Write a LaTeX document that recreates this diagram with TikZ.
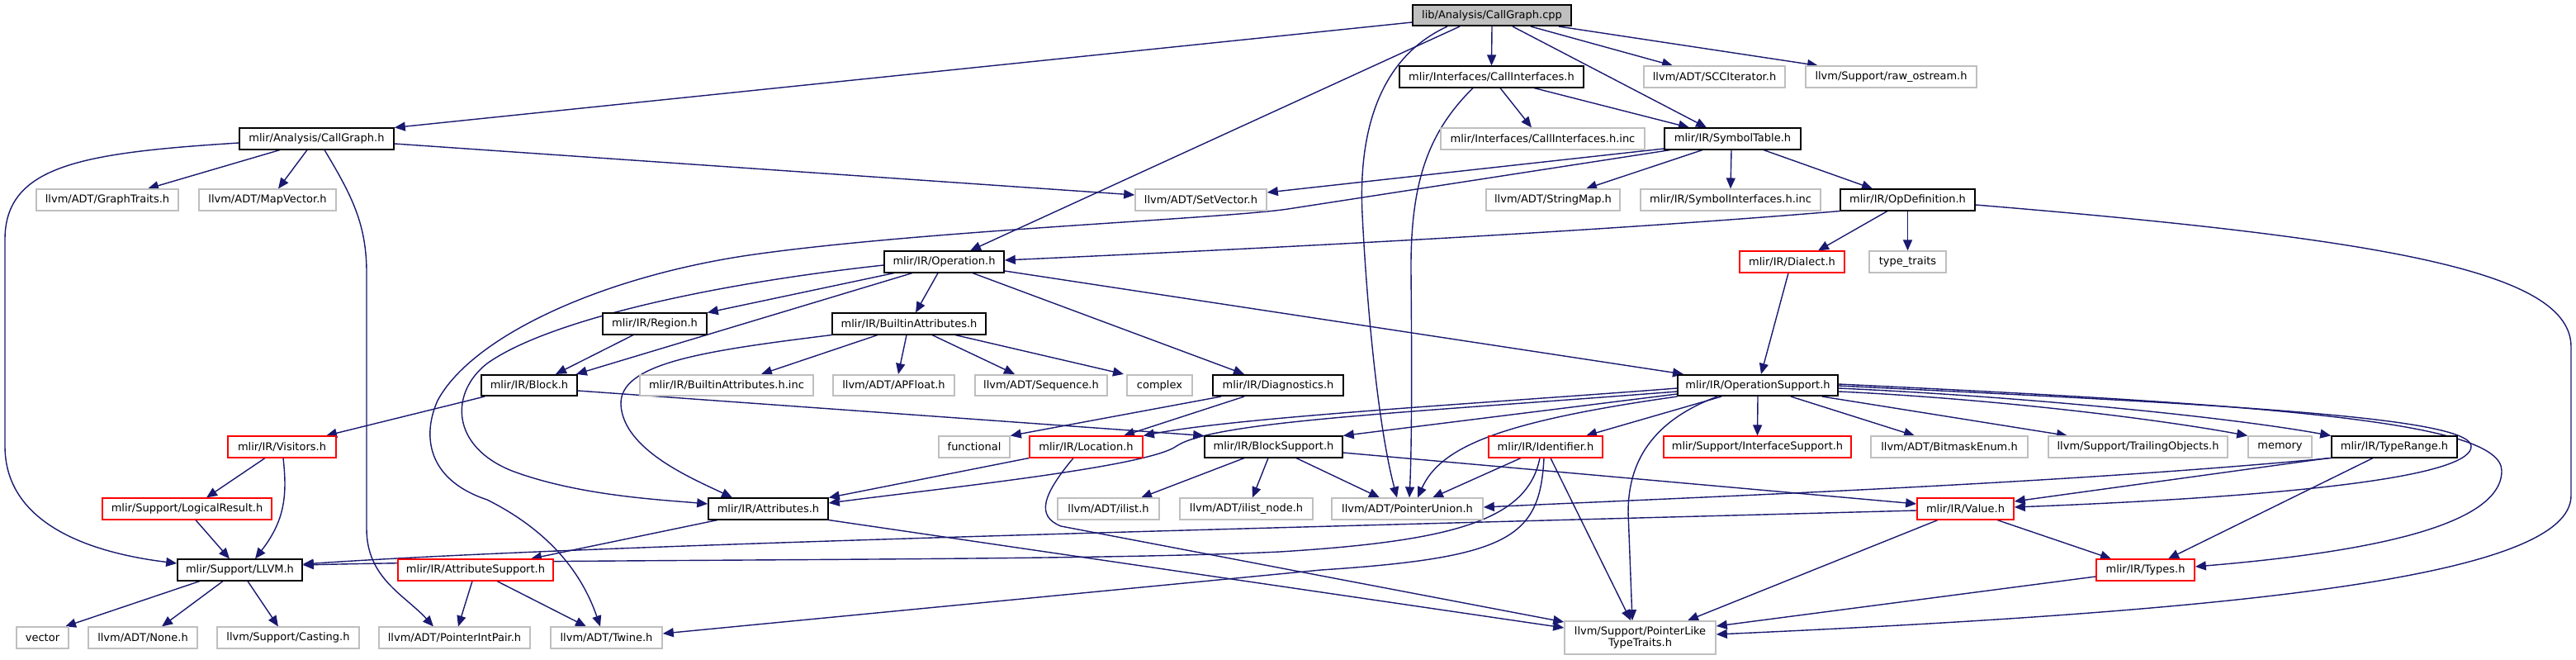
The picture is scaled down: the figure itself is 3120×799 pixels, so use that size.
\documentclass[tikz,border=0pt]{standalone}
\usepackage{fontspec}
\setmainfont{DejaVu Sans}
\usetikzlibrary{arrows.meta}
\pgfdeclarelayer{bg}
\pgfsetlayers{bg,main}
\definecolor{edgec}{HTML}{191970}
\definecolor{greyb}{HTML}{BFBFBF}
\begin{document}
\begin{tikzpicture}[x=1pt,y=-1pt,
  box/.style={rectangle, draw, line width=1.6pt, fill=white, inner sep=0pt, minimum height=25.5pt, font=\fontsize{13}{14}\selectfont},
  doc/.style={box, draw=black},
  ext/.style={box, draw=greyb},
  trunc/.style={box, draw=red},
  src/.style={box, draw=black, fill=greyb},
  dep/.style={draw=edgec, line width=1.4pt, -{Triangle[length=13pt,width=11pt]}}]
\useasboundingbox (0,0) rectangle (3120,799);

% nodes
\node[src, minimum width=192pt] (cpp) at (1807,18.5) {lib/Analysis/CallGraph.cpp};
\node[doc, minimum width=223pt] (ci) at (1806.5,93) {mlir/Interfaces/CallInterfaces.h};
\node[ext, minimum width=171pt] (scc) at (2076.5,93) {llvm/ADT/SCCIterator.h};
\node[ext, minimum width=207pt] (raw) at (2290.5,93) {llvm/Support/raw\_ostream.h};
\node[doc, minimum width=187pt] (cg) at (383.5,168) {mlir/Analysis/CallGraph.h};
\node[ext, minimum width=247pt] (cii) at (1868.5,168) {mlir/Interfaces/CallInterfaces.h.inc};
\node[doc, minimum width=165pt] (st) at (2098.5,168) {mlir/IR/SymbolTable.h};
\node[ext, minimum width=172pt] (gt) at (130,242) {llvm/ADT/GraphTraits.h};
\node[ext, minimum width=166pt] (mv) at (324,242) {llvm/ADT/MapVector.h};
\node[ext, minimum width=159pt] (sv) at (1454.5,242) {llvm/ADT/SetVector.h};
\node[ext, minimum width=162pt] (sm) at (1881,242) {llvm/ADT/StringMap.h};
\node[ext, minimum width=218pt] (sih) at (2096,242) {mlir/IR/SymbolInterfaces.h.inc};
\node[doc, minimum width=163pt] (od) at (2310.5,242) {mlir/IR/OpDefinition.h};
\node[doc, minimum width=145pt] (op) at (1143.5,317) {mlir/IR/Operation.h};
\node[trunc, minimum width=127pt] (dia) at (2170.5,317) {mlir/IR/Dialect.h};
\node[ext, minimum width=93pt] (tt) at (2310.5,317) {type\_traits};
\node[doc, minimum width=126pt] (reg) at (793,392) {mlir/IR/Region.h};
\node[doc, minimum width=186pt] (ba) at (1101,392) {mlir/IR/BuiltinAttributes.h};
\node[doc, minimum width=116pt] (blk) at (641,466.5) {mlir/IR/Block.h};
\node[ext, minimum width=210pt] (bai) at (880,466.5) {mlir/IR/BuiltinAttributes.h.inc};
\node[ext, minimum width=147pt] (apf) at (1082.5,466.5) {llvm/ADT/APFloat.h};
\node[ext, minimum width=160pt] (seq) at (1261,466.5) {llvm/ADT/Sequence.h};
\node[ext, minimum width=79pt] (cpx) at (1404.5,466.5) {complex};
\node[doc, minimum width=158pt] (diag) at (1548,466.5) {mlir/IR/Diagnostics.h};
\node[doc, minimum width=194pt] (ops) at (2129,466.5) {mlir/IR/OperationSupport.h};
\node[trunc, minimum width=131pt] (vis) at (341.5,541) {mlir/IR/Visitors.h};
\node[ext, minimum width=86pt] (fun) at (1180,541) {functional};
\node[trunc, minimum width=137pt] (loc) at (1315.5,541) {mlir/IR/Location.h};
\node[doc, minimum width=167pt] (bs) at (1542.5,541) {mlir/IR/BlockSupport.h};
\node[trunc, minimum width=138pt] (idt) at (1872,541) {mlir/IR/Identifier.h};
\node[trunc, minimum width=227pt] (isup) at (2128.5,541) {mlir/Support/InterfaceSupport.h};
\node[ext, minimum width=190pt] (bme) at (2361,541) {llvm/ADT/BitmaskEnum.h};
\node[ext, minimum width=217pt] (tro) at (2589.5,541) {llvm/Support/TrailingObjects.h};
\node[ext, minimum width=77pt] (mem) at (2761.5,541) {memory};
\node[doc, minimum width=152pt] (tr) at (2900,541) {mlir/IR/TypeRange.h};
\node[trunc, minimum width=205pt] (lr) at (226.5,616) {mlir/Support/LogicalResult.h};
\node[doc, minimum width=145pt] (attr) at (930.5,616) {mlir/IR/Attributes.h};
\node[ext, minimum width=123pt] (il) at (1342.5,616) {llvm/ADT/ilist.h};
\node[ext, minimum width=161pt] (iln) at (1509.5,616) {llvm/ADT/ilist\_node.h};
\node[ext, minimum width=183pt] (pu) at (1704.5,616) {llvm/ADT/PointerUnion.h};
\node[trunc, minimum width=117pt] (val) at (2380.5,616) {mlir/IR/Value.h};
\node[doc, minimum width=151pt] (llvm) at (290.5,690) {mlir/Support/LLVM.h};
\node[trunc, minimum width=188pt] (as) at (576,690) {mlir/IR/AttributeSupport.h};
\node[trunc, minimum width=119pt] (ty) at (2598.5,690) {mlir/IR/Types.h};
\node[ext, minimum width=63pt] (vec) at (51.5,772) {vector};
\node[ext, minimum width=132pt] (none) at (173,772) {llvm/ADT/None.h};
\node[ext, minimum width=172pt] (cast) at (349,772) {llvm/Support/Casting.h};
\node[ext, minimum width=183pt] (pip) at (550.5,772) {llvm/ADT/PointerIntPair.h};
\node[ext, minimum width=135pt] (tw) at (734.5,772) {llvm/ADT/Twine.h};
\node[ext, minimum width=183pt, minimum height=40pt, align=center] (plt) at (1986.5,772) {llvm/Support/PointerLike\\TypeTraits.h};

\begin{pgfonlayer}{bg}
% from CallGraph.cpp
\draw[dep] ([yshift=-8.5pt]cpp.west) -- (cg.north east);
\draw[dep] ([xshift=-39pt]cpp.south) -- ([xshift=31.5pt]op.north);
\draw[dep] ([xshift=-54pt]cpp.south) .. controls (1670,70) and (1645,160) .. (1650,260) .. controls (1656,380) and (1670,520) .. ([xshift=-12.5pt]pu.north);
\draw[dep] (cpp.south) -- (ci.north);
\draw[dep] ([xshift=25pt]cpp.south) -- ([xshift=-31.5pt]st.north);
\draw[dep] ([xshift=47pt]cpp.south) -- ([xshift=-50.5pt]scc.north);
\draw[dep] ([xshift=81pt]cpp.south) -- ([xshift=-88.5pt]raw.north);
% CallGraph.h
\draw[dep] ([xshift=-44.5pt]cg.south) -- ([xshift=49pt]gt.north);
\draw[dep] ([xshift=-11.5pt]cg.south) -- ([xshift=13pt]mv.north);
\draw[dep] ([yshift=-6pt]cg.east) -- ([yshift=6pt]sv.west);
\draw[dep] ([yshift=-5pt]cg.west) .. controls (100,185) and (6,200) .. (6,290) -- (6,540) .. controls (6,630) and (100,668) .. ([yshift=8pt]llvm.west);
\draw[dep] ([xshift=9.5pt]cg.south) .. controls (425,235) and (444,270) .. (444,330) -- (444,640) .. controls (444,700) and (490,720) .. ([xshift=-25.5pt]pip.north);
% CallInterfaces.h
\draw[dep] ([xshift=10.5pt]ci.south) -- ([xshift=-13.5pt]cii.north);
\draw[dep] ([xshift=51.5pt]ci.south) -- ([xshift=-52.5pt]st.north);
\draw[dep] ([xshift=-22.5pt]ci.south) .. controls (1730,160) and (1708,220) .. (1709,330) .. controls (1710,440) and (1710,540) .. ([xshift=2.5pt]pu.north);
% SymbolTable.h
\draw[dep] ([yshift=-12pt]st.west) -- ([yshift=9pt]sv.east);
\draw[dep] ([xshift=-75.5pt]st.south) -- (1560,253) .. controls (1480,265) and (1100,280) .. (900,310) .. controls (720,338) and (570,410) .. (530,485) .. controls (512,525) and (515,580) .. (590,605) .. controls (650,635) and (700,680) .. ([xshift=-7.5pt]tw.north);
\draw[dep] ([xshift=-36.5pt]st.south) -- ([xshift=40pt]sm.north);
\draw[dep] ([xshift=-1.5pt]st.south) -- (sih.north);
\draw[dep] ([xshift=37.5pt]st.south) -- ([xshift=-42.5pt]od.north);
% OpDefinition.h
\draw[dep] (od.south west) .. controls (1900,283) and (1500,302) .. ([yshift=2pt]op.east);
\draw[dep] ([xshift=-24.5pt]od.south) -- ([xshift=31.5pt]dia.north);
\draw[dep] (od.south) -- (tt.north);
\draw[dep] ([yshift=-6pt]od.east) .. controls (2900,290) and (3114,330) .. (3114,420) -- (3114,600) .. controls (3114,700) and (2700,740) .. ([yshift=4pt]plt.east);
% Dialect.h
\draw[dep] ([xshift=-4.5pt]dia.south) -- ([xshift=4pt]ops.north);
% Operation.h
\draw[dep] ([xshift=-60.5pt]op.south) -- (reg.north east);
\draw[dep] ([xshift=-38.5pt]op.south) -- ([xshift=-2pt]blk.north east);
\draw[dep] ([xshift=-7.5pt]op.south) -- ([xshift=8pt]ba.north);
\draw[dep] ([xshift=34.5pt]op.south) -- ([xshift=-41pt]diag.north);
\draw[dep] ([yshift=-11pt]op.east) -- ([xshift=-90pt]ops.north);
\draw[dep] ([yshift=-4pt]op.west) .. controls (850,345) and (660,390) .. (590,440) .. controls (545,475) and (545,540) .. (620,570) .. controls (700,600) and (800,605) .. ([yshift=6pt]attr.west);
% BuiltinAttributes.h
\draw[dep] ([xshift=-38pt]ba.south) -- ([xshift=42pt]bai.north);
\draw[dep] ([xshift=-3pt]ba.south) -- ([xshift=5.5pt]apf.north);
\draw[dep] ([xshift=28pt]ba.south) -- ([xshift=-32pt]seq.north);
\draw[dep] ([xshift=56pt]ba.south) -- ([xshift=-43.5pt]cpx.north);
\draw[dep] (ba.south west) .. controls (850,425) and (750,440) .. (752,490) .. controls (755,545) and (840,580) .. ([xshift=-43.5pt]attr.north);
% Region.h
\draw[dep] ([xshift=-26pt]reg.south) -- ([xshift=32pt]blk.north);
% Block.h
\draw[dep] ([xshift=-54pt]blk.south) -- ([xshift=53.5pt]vis.north);
\draw[dep] ([yshift=-6.5pt]blk.east) -- (bs.north west);
% Visitors.h, LogicalResult.h
\draw[dep] ([xshift=-20.5pt]vis.south) -- ([xshift=23.5pt]lr.north);
\draw[dep] ([xshift=1.5pt]vis.south) .. controls (348,600) and (345,630) .. ([xshift=18.5pt]llvm.north);
\draw[dep] ([xshift=10.5pt]lr.south) -- ([xshift=-12.5pt]llvm.north);
% LLVM.h
\draw[dep] ([xshift=-48.5pt]llvm.south) -- ([xshift=27.5pt]vec.north);
\draw[dep] ([xshift=-20.5pt]llvm.south) -- ([xshift=23pt]none.north);
\draw[dep] ([xshift=9.5pt]llvm.south) -- ([xshift=-12pt]cast.north);
% AttributeSupport.h
\draw[dep] ([xshift=-4pt]as.south) -- ([xshift=4.5pt]pip.north);
\draw[dep] ([xshift=26pt]as.south) -- ([xshift=-24.5pt]tw.north);
% Attributes.h
\draw[dep] ([xshift=-61.5pt]attr.south) -- ([xshift=67pt]as.north);
\draw[dep] (attr.south east) -- ([yshift=12pt]plt.west);
% Diagnostics.h
\draw[dep] ([xshift=-69pt]diag.south) -- (fun.north east);
\draw[dep] ([xshift=-41pt]diag.south) -- ([xshift=45.5pt]loc.north);
% Location.h
\draw[dep] (loc.south west) -- (attr.north east);
\draw[dep] ([xshift=-15.5pt]loc.south) .. controls (1262,600) and (1255,625) .. (1285,637) -- ([yshift=19pt]plt.west);
% BlockSupport.h
\draw[dep] ([xshift=-35.5pt]bs.south) -- ([xshift=39.5pt]il.north);
\draw[dep] ([xshift=-6.5pt]bs.south) -- ([xshift=7.5pt]iln.north);
\draw[dep] ([xshift=27.5pt]bs.south) -- ([xshift=-33.5pt]pu.north);
\draw[dep] ([yshift=-7pt]bs.east) -- ([yshift=6pt]val.west);
% OperationSupport.h
\draw[dep] ([yshift=-3.5pt]ops.west) .. controls (1800,488) and (1500,505) .. (loc.north east);
\draw[dep] ([yshift=-7.5pt]ops.west) .. controls (1700,500) and (1470,510) .. (1425,540) .. controls (1390,565) and (1150,590) .. ([yshift=7pt]attr.east);
\draw[dep] ([yshift=-10.5pt]ops.west) -- (bs.north east);
\draw[dep] (ops.south west) .. controls (1820,510) and (1745,540) .. ([xshift=12.5pt]pu.north);
\draw[dep] ([xshift=-44pt]ops.south) -- ([xshift=49pt]idt.north);
\draw[dep] ([xshift=-49pt]ops.south) .. controls (2000,510) and (1972,560) .. (1972,620) -- ([xshift=-9.5pt]plt.north);
\draw[dep] (ops.south) -- (isup.north);
\draw[dep] ([xshift=40pt]ops.south) -- ([xshift=-42pt]bme.north);
\draw[dep] ([xshift=78pt]ops.south) -- ([xshift=-85.5pt]tro.north);
\draw[dep] ([yshift=-7.5pt]ops.east) .. controls (2400,482) and (2600,505) .. (mem.north west);
\draw[dep] ([yshift=-3.5pt]ops.east) .. controls (2450,480) and (2700,505) .. (tr.north west);
\draw[dep] ([yshift=-0.5pt]ops.east) .. controls (2700,490) and (2990,505) .. (2993,540) .. controls (2995,575) and (2800,600) .. ([yshift=2pt]val.east);
\draw[dep] ([yshift=1.5pt]ops.east) .. controls (2750,490) and (3030,510) .. (3030,570) .. controls (3030,640) and (2850,670) .. ([yshift=4pt]ty.east);
% Identifier.h
\draw[dep] ([xshift=-30pt]idt.south) -- ([xshift=30.5pt]pu.north);
\draw[dep] ([xshift=-7pt]idt.south) .. controls (1850,630) and (1760,655) .. (1550,668) .. controls (1300,680) and (700,676) .. ([yshift=6pt]llvm.east);
\draw[dep] ([xshift=-2pt]idt.south) .. controls (1865,650) and (1830,675) .. (1600,690) -- ([yshift=5pt]tw.east);
\draw[dep] ([xshift=6pt]idt.south) -- ([xshift=-11.5pt]plt.north);
% Value.h
\draw[dep] ([yshift=-2pt]val.west) .. controls (1500,640) and (700,660) .. ([yshift=7pt]llvm.east);
\draw[dep] ([xshift=-33.5pt]val.south) -- ([xshift=57.5pt]plt.north);
\draw[dep] ([xshift=38.5pt]val.south) -- ([xshift=-41.5pt]ty.north);
% TypeRange.h
\draw[dep] (tr.south west) .. controls (2500,585) and (2100,600) .. ([yshift=2pt]pu.east);
\draw[dep] ([xshift=-3pt]tr.south west) -- ([yshift=9pt]val.east);
\draw[dep] ([xshift=-26pt]tr.south) -- ([xshift=27.5pt]ty.north);
% Types.h
\draw[dep] ([yshift=-8pt]ty.west) -- ([yshift=14pt]plt.east);
\end{pgfonlayer}
\end{tikzpicture}
\end{document}
